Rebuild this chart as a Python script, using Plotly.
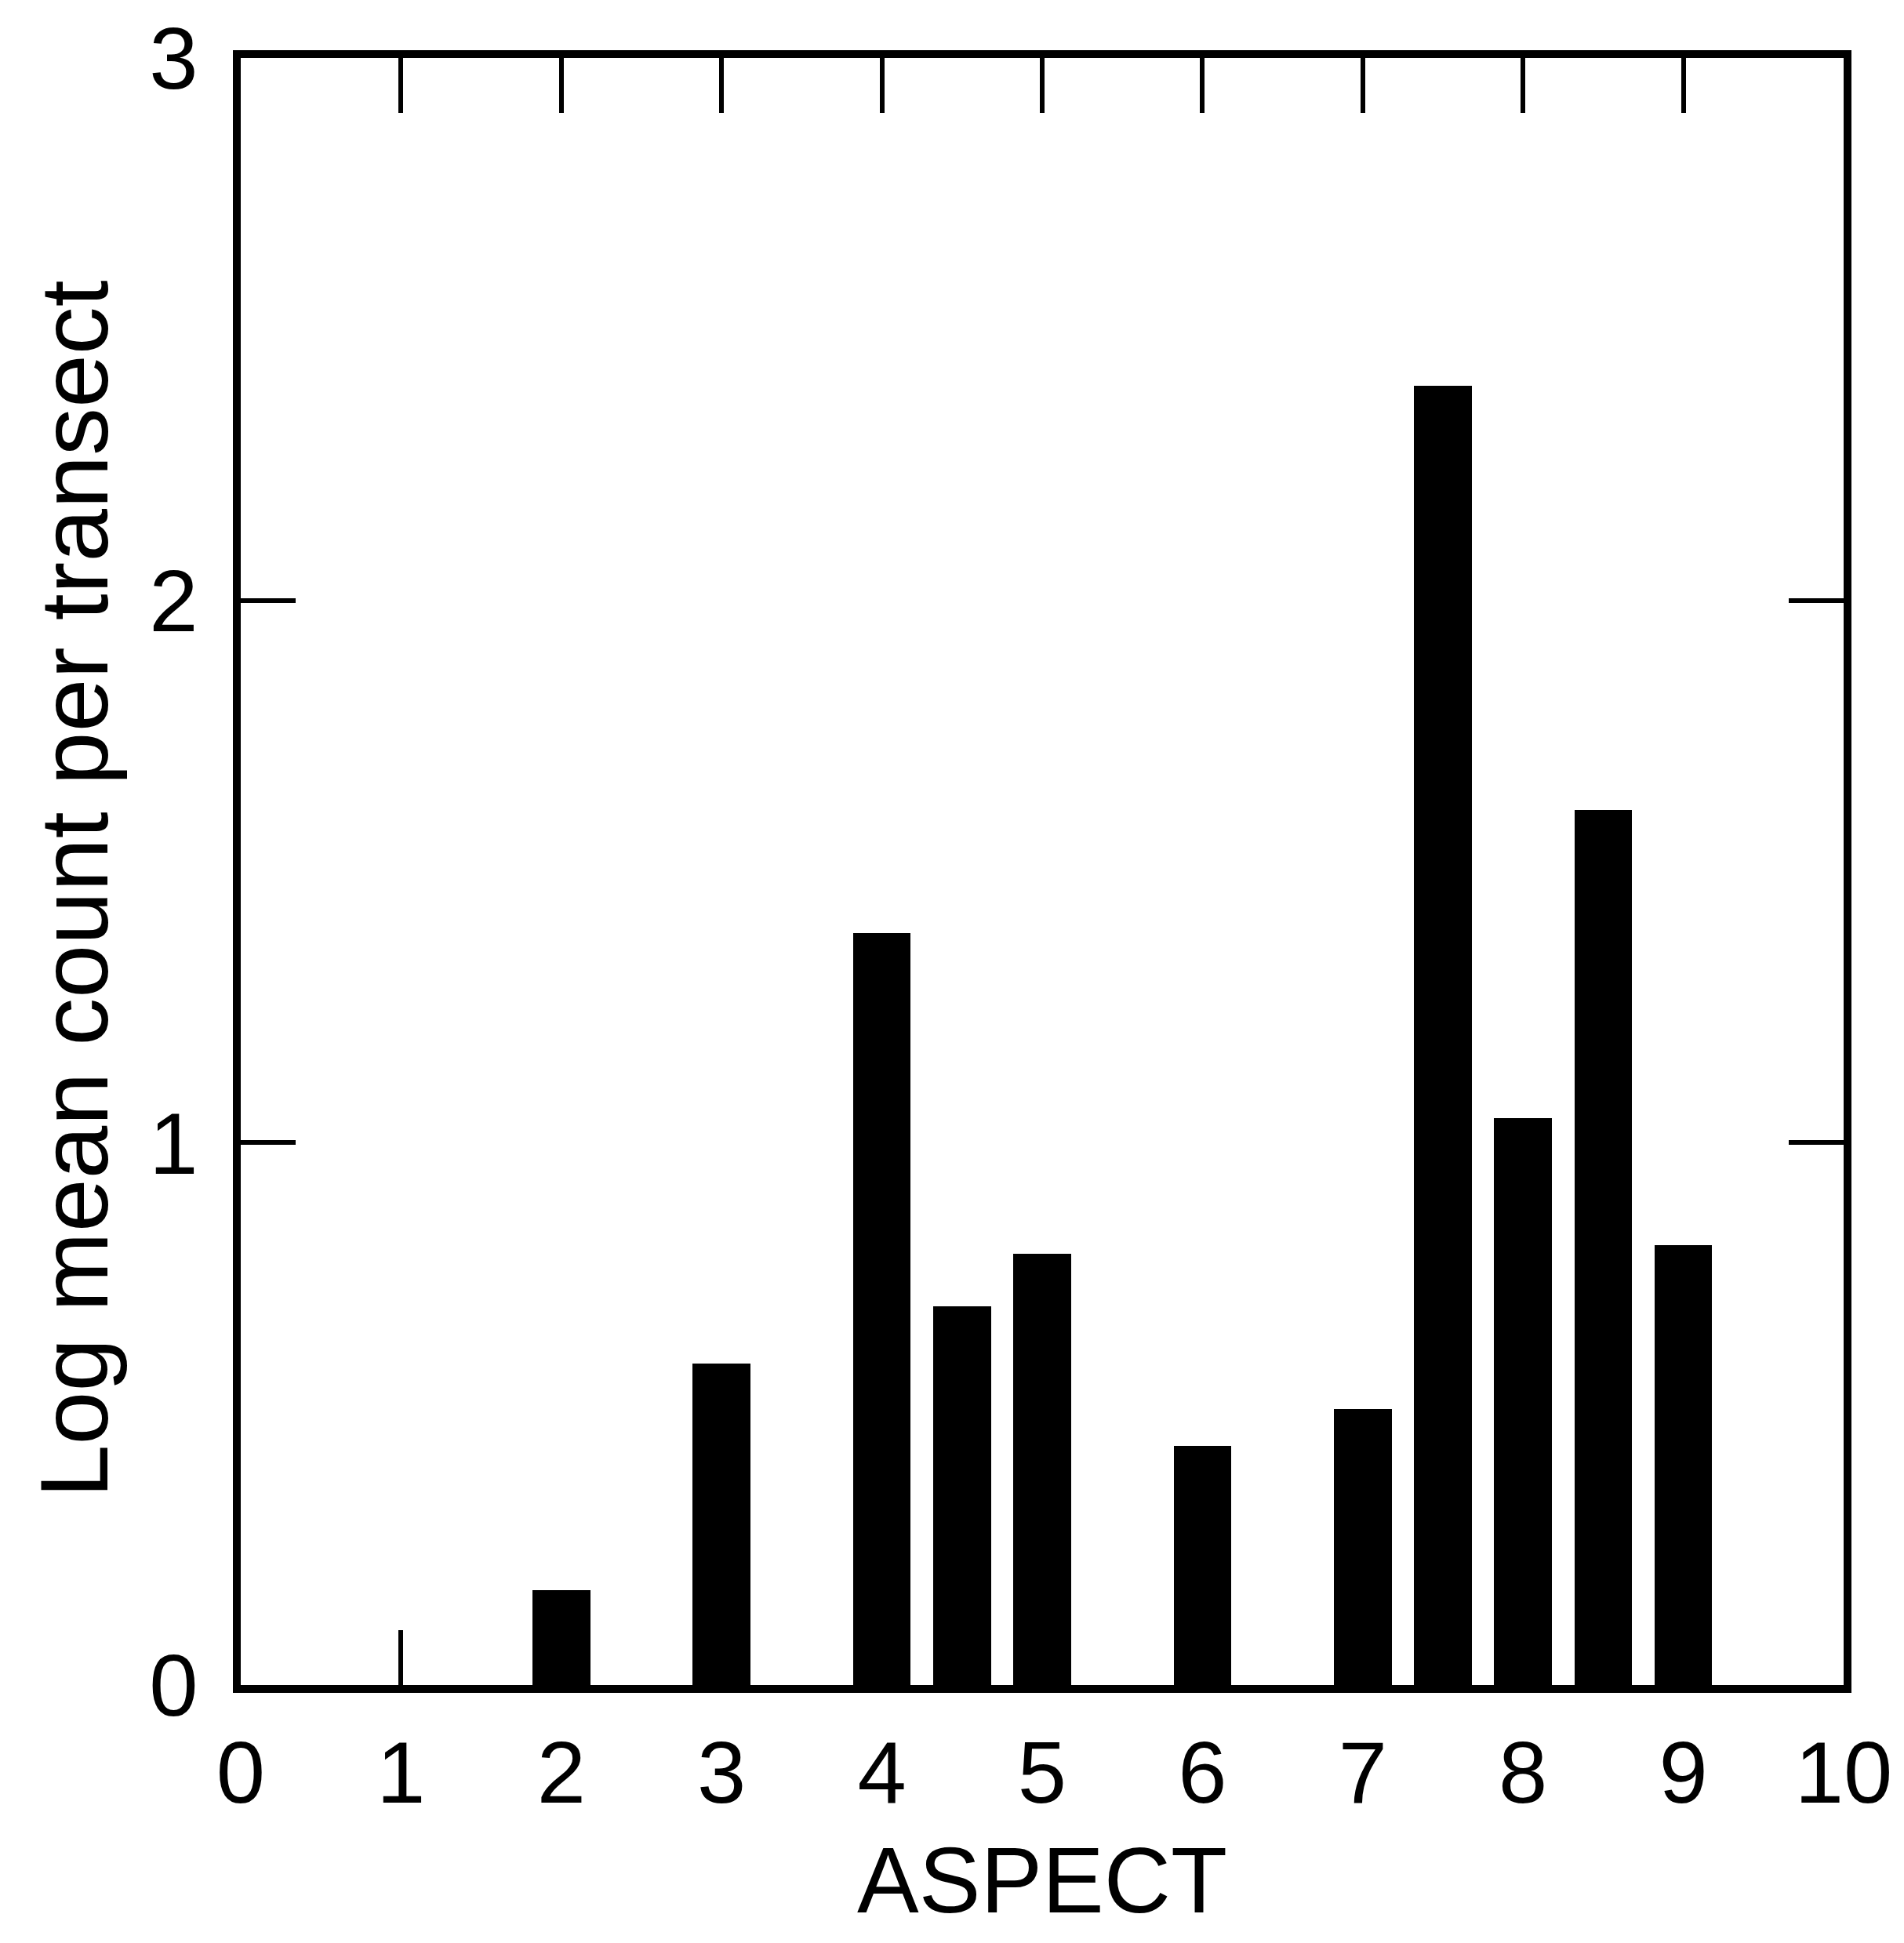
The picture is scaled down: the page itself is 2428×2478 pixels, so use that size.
import plotly.graph_objects as go

aspect = [2, 3, 4, 4.5, 5, 6, 7, 7.5, 8, 8.5, 9]
log_mean_count = [0.175, 0.593, 1.386, 0.698, 0.795, 0.441, 0.509, 2.395, 1.045, 1.614, 0.811]
x_ticks = [0, 1, 2, 3, 4, 5, 6, 7, 8, 9, 10]
y_ticks = [0, 1, 2, 3]

fig = go.Figure()
fig.add_trace(go.Bar(
    x=aspect, y=log_mean_count, width=0.36,
    marker=dict(color="black", line=dict(width=0)),
    showlegend=False,
))

font_family = "Liberation Sans, Arial, sans-serif"
fig.update_layout(
    width=2428, height=2478,
    margin=dict(l=307, r=77, t=71, b=329),
    paper_bgcolor="white", plot_bgcolor="white",
    font=dict(family=font_family, color="black"),
    xaxis=dict(
        range=[0, 10], tickvals=x_ticks, ticktext=[str(v) for v in x_ticks],
        ticks="inside", ticklen=70, tickwidth=6, tickcolor="black",
        showline=True, linewidth=10, linecolor="black", mirror="ticks",
        showgrid=False, zeroline=False,
        tickfont=dict(size=112, family=font_family),
        ticklabelstandoff=6,
    ),
    yaxis=dict(
        range=[0, 3], tickvals=y_ticks, ticktext=[str(v) for v in y_ticks],
        ticks="inside", ticklen=70, tickwidth=6, tickcolor="black",
        showline=True, linewidth=10, linecolor="black", mirror="ticks",
        showgrid=False, zeroline=False,
        tickfont=dict(size=112, family=font_family),
        ticklabelstandoff=22,
    ),
    annotations=[
        dict(text="ASPECT", xref="paper", yref="paper", x=0.5, y=0,
             xanchor="center", yanchor="middle", yshift=-249, showarrow=False,
             font=dict(size=118, family=font_family, color="black")),
        dict(text="Log mean count per transect", xref="paper", yref="paper", x=0, y=0.489,
             xanchor="center", yanchor="middle", xshift=-212, textangle=-90, showarrow=False,
             font=dict(size=122, family=font_family, color="black")),
    ],
    bargap=0,
)

fig.write_html("out.html")
